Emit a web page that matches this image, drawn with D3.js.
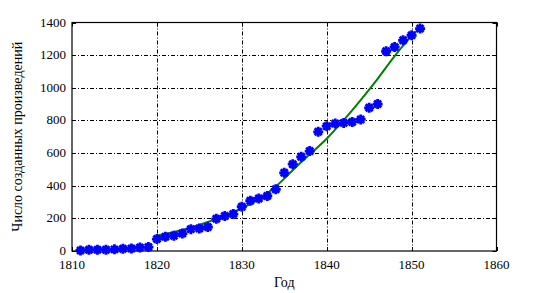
<!DOCTYPE html>
<html>
<head>
<meta charset="utf-8">
<script src="https://cdn.jsdelivr.net/npm/d3@7"></script>
</head>
<body style="margin:0">
<div id="fig"></div>
<script>
// observed works per year
const years = [1811, 1812, 1813, 1814, 1815, 1816, 1817, 1818, 1819, 1820,
  1821, 1822, 1823, 1824, 1825, 1826, 1827, 1828, 1829, 1830,
  1831, 1832, 1833, 1834, 1835, 1836, 1837, 1838, 1839, 1840,
  1841, 1842, 1843, 1844, 1845, 1846, 1847, 1848, 1849, 1850, 1851];
const works = [3, 8, 8, 8, 10, 14, 16, 22, 24, 73,
  88, 94, 107, 134, 138, 147, 197, 214, 226, 271,
  308, 322, 337, 378, 479, 532, 577, 612, 730, 765,
  781, 785, 791, 806, 877, 900, 1224, 1250, 1291, 1322, 1363];

// fitted curve
const fitYears = [1820, 1822, 1824, 1826, 1828, 1830, 1832, 1834, 1836, 1838,
  1840, 1842, 1844, 1846, 1848, 1850, 1851];
const fitValues = [94, 116, 144, 178, 218, 262, 318, 395, 495, 592,
  688, 802, 925, 1055, 1194, 1318, 1367];

const xTicks = [1810, 1820, 1830, 1840, 1850, 1860];
const yTicks = [0, 200, 400, 600, 800, 1000, 1200, 1400];

const width = 549, height = 293;
const margin = {left: 72, right: 52.5, top: 22.5, bottom: 42};
const fam = "'Liberation Serif'";

const svg = d3.select("#fig").append("svg")
  .attr("width", width)
  .attr("height", height);

const x = d3.scaleLinear().domain([1810, 1860]).range([margin.left, width - margin.right]);
const y = d3.scaleLinear().domain([0, 1400]).range([height - margin.bottom, margin.top]);

const plotW = width - margin.left - margin.right;
const plotH = height - margin.top - margin.bottom;

// grid
const grid = svg.append("g").attr("stroke", "#000").attr("stroke-width", 1)
  .attr("stroke-dasharray", "4,2,1,2");
grid.selectAll(".gx").data(xTicks.slice(1, -1)).join("line")
  .attr("x1", d => Math.round(x(d)) + 0.5).attr("x2", d => Math.round(x(d)) + 0.5)
  .attr("y1", y(1400)).attr("y2", y(0));
grid.selectAll(".gy").data(yTicks.slice(1, -1)).join("line")
  .attr("x1", x(1810)).attr("x2", x(1860))
  .attr("y1", d => Math.round(y(d)) + 0.5).attr("y2", d => Math.round(y(d)) + 0.5);

// tick marks only (labels drawn separately)
const tk = svg.append("g").attr("stroke", "#000").attr("stroke-width", 1);
tk.selectAll(".tb").data(xTicks).join("line")
  .attr("x1", d => Math.round(x(d)) + 0.5).attr("x2", d => Math.round(x(d)) + 0.5)
  .attr("y1", y(0)).attr("y2", y(0) - 4);
tk.selectAll(".tt").data(xTicks).join("line")
  .attr("x1", d => Math.round(x(d)) + 0.5).attr("x2", d => Math.round(x(d)) + 0.5)
  .attr("y1", y(1400)).attr("y2", y(1400) + 4);
tk.selectAll(".tl").data(yTicks).join("line")
  .attr("x1", x(1810)).attr("x2", x(1810) + 4)
  .attr("y1", d => Math.round(y(d)) + 0.5).attr("y2", d => Math.round(y(d)) + 0.5);
tk.selectAll(".tr").data(yTicks).join("line")
  .attr("x1", x(1860)).attr("x2", x(1860) - 4)
  .attr("y1", d => Math.round(y(d)) + 0.5).attr("y2", d => Math.round(y(d)) + 0.5);

// tick labels
svg.selectAll(".xl").data(xTicks).join("text")
  .attr("x", d => x(d)).attr("y", y(0) + 18)
  .attr("text-anchor", "middle")
  .style("font-family", fam).attr("font-size", 13)
  .text(d => d);
svg.selectAll(".yl").data(yTicks).join("text")
  .attr("x", x(1810) - 6).attr("y", d => y(d) + 4)
  .attr("text-anchor", "end")
  .style("font-family", fam).attr("font-size", 13)
  .text(d => d);

// frame
svg.append("rect")
  .attr("x", x(1810)).attr("y", y(1400))
  .attr("width", plotW).attr("height", plotH)
  .attr("fill", "none").attr("stroke", "#000").attr("stroke-width", 1.2);

// fit curve
const line = d3.line().x((d, i) => x(fitYears[i])).y(d => y(d)).curve(d3.curveCatmullRom);
svg.append("path").datum(fitValues)
  .attr("d", line)
  .attr("fill", "none").attr("stroke", "#008000").attr("stroke-width", 2);

// asterisk markers
const r = 5;
const star = "M" + (-r) + ",0L" + r + ",0M0," + (-r) + "L0," + r +
  "M" + (-r * 0.7) + "," + (-r * 0.7) + "L" + (r * 0.7) + "," + (r * 0.7) +
  "M" + (-r * 0.7) + "," + (r * 0.7) + "L" + (r * 0.7) + "," + (-r * 0.7);
svg.append("g").selectAll("path").data(works).join("path")
  .attr("transform", (d, i) => "translate(" + x(years[i]) + "," + y(d) + ")")
  .attr("d", star)
  .attr("fill", "none").attr("stroke", "#0000ff").attr("stroke-width", 2.8);

// axis titles
svg.append("text")
  .attr("x", x(1835)).attr("y", 287)
  .attr("text-anchor", "middle")
  .style("font-family", fam).attr("font-size", 14)
  .text("Год");

svg.append("text")
  .attr("transform", "translate(22," + (margin.top + plotH / 2) + ") rotate(-90)")
  .attr("text-anchor", "middle")
  .style("font-family", fam).attr("font-size", 14)
  .text("Число созданных произведений");
</script>
</body>
</html>
